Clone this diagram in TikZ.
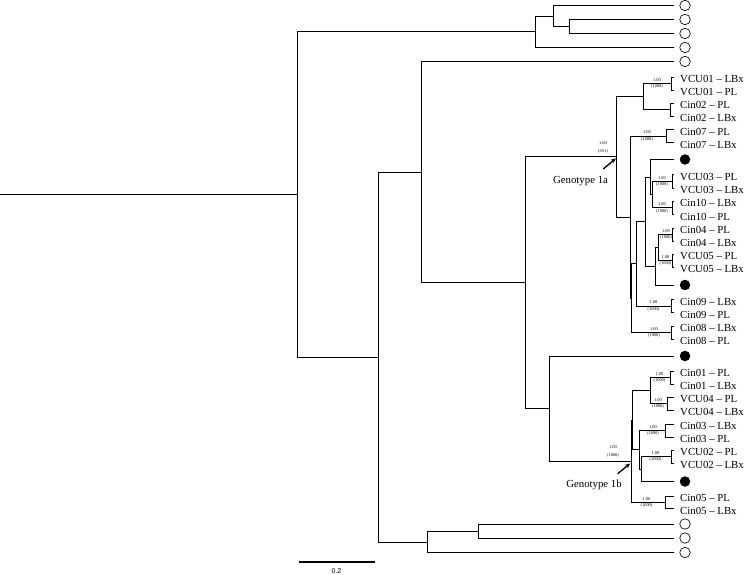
\documentclass[tikz,border=0pt]{standalone}
\usepackage{fontspec}
\setmainfont{Liberation Serif}
\newfontfamily\scalefont{Liberation Sans}
\usetikzlibrary{arrows.meta,calc}
\newcommand{\leafpair}[6]{%
  \pgfmathsetmacro{\ym}{(#3+#4)/2}%
  \coordinate (#1) at (#2,\ym);
  \coordinate (#1a) at (674,#3);
  \coordinate (#1b) at (674,#4);
  \draw[br] (#1) |- (#1a);
  \draw[br] (#1) |- (#1b);
  \node[lab] (#1la) at (680,#3+2) {#5};
  \node[lab] (#1lb) at (680,#4+2) {#6};
}
\newcommand{\bsl}[4]{%
  \node[bsf] (#1u) at (#2,#3-3.6) {1.00};
  \node[bsf] (#1d) at (#2,#3+3.4) {#4};
}
\newcommand{\oleaf}[2]{%
  \coordinate (#1) at (674,#2);
  \node[oc] (#1c) at (685,#2) {};
}
\newcommand{\dleaf}[2]{%
  \coordinate (#1) at (674,#2);
  \node[fc] (#1c) at (685,#2) {};
}
\begin{document}
\begin{tikzpicture}[x=1pt,y=-1pt,
  br/.style={line width=0.8pt},
  lab/.style={anchor=west,inner sep=0pt,font=\fontsize{10.8}{12}\selectfont},
  bsf/.style={inner sep=0pt,font=\fontsize{4.4}{5}\selectfont},
  oc/.style={circle,draw,line width=0.65pt,minimum size=10.5pt,inner sep=0pt},
  fc/.style={circle,fill,minimum size=10.5pt,inner sep=0pt},
  gl/.style={inner sep=0pt,font=\fontsize{10.8}{12}\selectfont},
  arr/.style={line width=1.3pt,-{Stealth[length=5pt,width=4.5pt]}}]
\useasboundingbox (0,0) rectangle (745,575);

% ---- leaves ----
\oleaf{c1}{5.5}
\oleaf{c2}{19.5}
\oleaf{c3}{33.5}
\oleaf{c4}{47.5}
\oleaf{c5}{61.5}
\leafpair{pVCU01}{671}{77}{90}{VCU01 – LBx}{VCU01 – PL}
\leafpair{pCin02}{670}{103}{116}{Cin02 – PL}{Cin02 – LBx}
\leafpair{pCin07}{666}{129.5}{142.5}{Cin07 – PL}{Cin07 – LBx}
\dleaf{d1}{159.5}
\leafpair{pVCU03}{672.5}{174.5}{188}{VCU03 – PL}{VCU03 – LBx}
\leafpair{pCin10}{672.5}{201}{214.5}{Cin10 – LBx}{Cin10 – PL}
\leafpair{pCin04}{672.5}{228}{241}{Cin04 – PL}{Cin04 – LBx}
\leafpair{pVCU05}{672.5}{254}{267}{VCU05 – PL}{VCU05 – LBx}
\dleaf{d2}{285}
\leafpair{pCin09}{671.5}{299.5}{312.5}{Cin09 – LBx}{Cin09 – PL}
\leafpair{pCin08}{671.5}{326}{339}{Cin08 – LBx}{Cin08 – PL}
\dleaf{d3}{356}
\leafpair{pCin01}{670.5}{371}{384}{Cin01 – PL}{Cin01 – LBx}
\leafpair{pVCU04}{667}{397}{410}{VCU04 – PL}{VCU04 – LBx}
\leafpair{pCin03}{665}{424}{437}{Cin03 – LBx}{Cin03 – PL}
\leafpair{pVCU02}{671}{450}{463}{VCU02 – PL}{VCU02 – LBx}
\dleaf{d4}{481.5}
\leafpair{pCin05}{665}{496}{508.5}{Cin05 – PL}{Cin05 – LBx}
\oleaf{c6}{524}
\oleaf{c7}{538}
\oleaf{c8}{552.5}

% ---- internal nodes ----
\coordinate (root) at (0,194.4);
\coordinate (nN0) at (297.4,194.4);
\coordinate (nT1) at (535,31.75);
\coordinate (nT2) at (553.4,16);
\coordinate (nT3) at (569,26.5);
\coordinate (nL1) at (378,357);
\coordinate (nL2) at (421.8,172.1);
\coordinate (nL3) at (525.4,282.7);
\coordinate (nL4) at (549.6,408.6);
\coordinate (nB1) at (427.6,541.9);
\coordinate (nB2) at (478,531);
\coordinate (nG1a) at (616.6,156.8);
\coordinate (nAa) at (643.2,96.5);
\coordinate (nC) at (630.5,217.1);
\coordinate (nD) at (631.5,298.2);
\coordinate (nE) at (636.5,263.8);
\coordinate (nF) at (645,221.6);
\coordinate (nG) at (650.5,177);
\coordinate (nI) at (652,194.5);
\coordinate (nH) at (655.5,266.25);
\coordinate (nJ) at (658.5,247.5);
\coordinate (nK) at (630.9,461.2);
\coordinate (nM) at (632.8,420.1);
\coordinate (nLL) at (650.8,390.5);
\coordinate (nN) at (639,449.75);
\coordinate (nO) at (641.3,469);

% ---- branches ----
\draw[br] (root) -- (nN0);
\draw[br] (nN0) |- (nT1);
\draw[br] (nN0) |- (nL1);
\draw[br] (nT1) |- (nT2);
\draw[br] (nT1) |- (c4);
\draw[br] (nT2) |- (c1);
\draw[br] (nT2) |- (nT3);
\draw[br] (nT3) |- (c2);
\draw[br] (nT3) |- (c3);
\draw[br] (nL1) |- (nL2);
\draw[br] (nL1) |- (nB1);
\draw[br] (nB1) |- (nB2);
\draw[br] (nB1) |- (c8);
\draw[br] (nB2) |- (c6);
\draw[br] (nB2) |- (c7);
\draw[br] (nL2) |- (c5);
\draw[br] (nL2) |- (nL3);
\draw[br] (nL3) |- (nG1a);
\draw[br] (nL3) |- (nL4);
\draw[br] (nL4) |- (d3);
\draw[br] (nL4) |- (nK);
% genotype 1a
\draw[br] (nG1a) |- (nAa);
\draw[br] (nG1a) |- (nC);
\draw[br] (nAa) |- (pVCU01);
\draw[br] (nAa) |- (pCin02);
\draw[br] (nC) |- (pCin07);
\draw[br] (nC) |- (nD);
\draw[br] (nD) |- (nE);
\draw[br] (nD) |- (pCin08);
\draw[br] (nE) |- (nF);
\draw[br] (nE) |- (pCin09);
\draw[br] (nF) |- (nG);
\draw[br] (nF) |- (nH);
\draw[br] (nG) |- (d1);
\draw[br] (nG) |- (nI);
\draw[br] (nI) |- (pVCU03);
\draw[br] (nI) |- (pCin10);
\draw[br] (nH) |- (nJ);
\draw[br] (nH) |- (d2);
\draw[br] (nJ) |- (pCin04);
\draw[br] (nJ) |- (pVCU05);
% genotype 1b
\draw[br] (nK) |- (nM);
\draw[br] (nK) |- (pCin05);
\draw[br] (nM) |- (nLL);
\draw[br] (nM) |- (nN);
\draw[br] (nLL) |- (pCin01);
\draw[br] (nLL) |- (pVCU04);
\draw[br] (nN) |- (pCin03);
\draw[br] (nN) |- (nO);
\draw[br] (nO) |- (pVCU02);
\draw[br] (nO) |- (d4);

% ---- support values ----
\bsl{b1}{657}{83.5}{(1000)}
\bsl{b2}{647}{136}{(1000)}
\node[bsf] (b3u) at (603,143.5) {1.00};
\node[bsf] (b3d) at (603,151) {(951)};
\bsl{b4}{662}{181.25}{(1000)}
\bsl{b5}{662}{207.75}{(1000)}
\bsl{b6}{666}{234.5}{(1000)}
\bsl{b7}{665.5}{260.5}{(1000)}
\bsl{b8}{653.5}{306}{(1000)}
\bsl{b9}{654}{332.5}{(1000)}
\bsl{b10}{659.5}{377.5}{(1000)}
\bsl{b11}{658}{403.5}{(1000)}
\bsl{b12}{653}{430.5}{(1000)}
\node[bsf] (b13u) at (613,447.5) {1.00};
\node[bsf] (b13d) at (613,455.5) {(1000)};
\bsl{b14}{655.5}{456.5}{(1000)}
\bsl{b15}{646.5}{502.25}{(1000)}

% ---- genotype labels and arrows ----
\node[gl] (g1a) at (580.5,181) {Genotype 1a};
\node[gl] (g1b) at (594,485) {Genotype 1b};
\coordinate (a1s) at (603.3,169);
\coordinate (a2s) at (617.6,473.8);
\draw[arr] (a1s) -- ($(nG1a)+(-0.8,1.6)$);
\draw[arr] (a2s) -- ($(nK)+(-0.9,2.3)$);

% ---- scale bar ----
\coordinate (sb1) at (299,561.5);
\coordinate (sb2) at (374.5,561.5);
\draw[line width=2pt] (sb1) -- (sb2);
\node[inner sep=0pt,font=\scalefont\fontsize{7}{8}\selectfont] (sbl) at (336.5,571.5) {0.2};
\end{tikzpicture}
\end{document}
